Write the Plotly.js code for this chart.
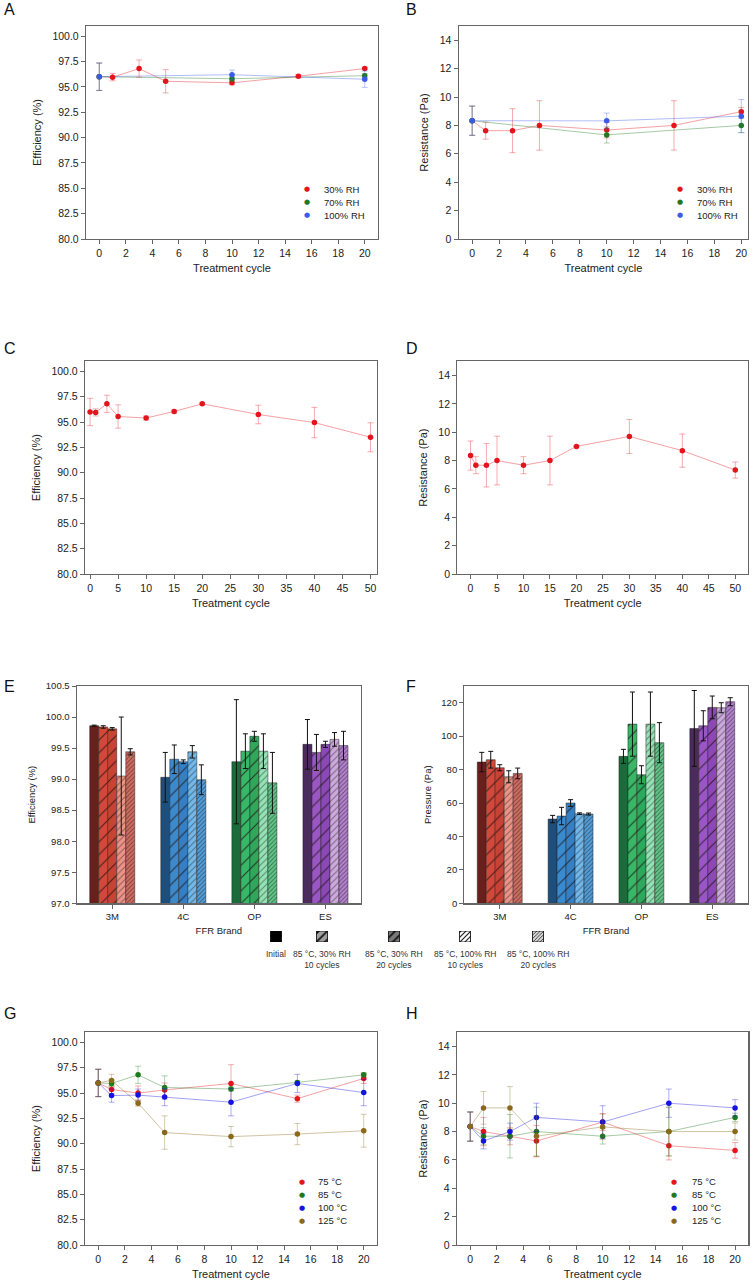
<!DOCTYPE html>
<html><head><meta charset="utf-8">
<script src="https://cdn.plot.ly/plotly-3.0.1.min.js"></script>
<style>body{margin:0;background:#fff}#chart{width:753px;height:1280px}</style>
</head><body><div id="chart"></div>
<script>
// ---------------- DATA ----------------
const cyclesFull = [0, 1, 3, 5, 10, 15, 20];
const cyclesRH = [0, 10, 20];
const cyclesLong = [0, 1, 3, 5, 10, 15, 20, 30, 40, 50];

// Panel A: efficiency (%) vs humidity
const effRH30 = [96.0, 95.95, 96.8, 95.55, 95.4, 96.05, 96.8];
const effRH30Err = [1.35, 0.35, 0.85, 1.15, 0.2, 0.15, 0.1];
const effRH70 = [96.0, 95.8, 96.1];
const effRH70Err = [1.35, 0.3, 0.2];
const effRH100 = [96.0, 96.2, 95.75];
const effRH100Err = [1.35, 0.45, 0.8];

// Panel B: resistance (Pa) vs humidity
const resRH30 = [8.33, 7.63, 7.63, 8.0, 7.67, 8.0, 8.97];
const resRH30Err = [1.03, 0.6, 1.55, 1.74, 0.55, 1.74, 0.3];
const resRH70 = [8.33, 7.33, 8.0];
const resRH70Err = [1.03, 0.57, 0.5];
const resRH100 = [8.33, 8.32, 8.65];
const resRH100Err = [1.03, 0.55, 1.17];

// Panel C / D: long cycling
const effLong = [96.0, 95.95, 96.8, 95.55, 95.4, 96.05, 96.8, 95.75, 94.95, 93.5];
const effLongErr = [1.35, 0.35, 0.85, 1.15, 0.2, 0.15, 0.1, 0.92, 1.5, 1.43];
const resLong = [8.35, 7.67, 7.67, 8.0, 7.67, 8.0, 9.0, 9.7, 8.7, 7.33];
const resLongErr = [1.03, 0.6, 1.53, 1.72, 0.6, 1.72, 0.05, 1.2, 1.17, 0.57];

// Panel E / F: FFR brands
const brands = ['3M', '4C', 'OP', 'ES'];
const condLabels = ['Initial', '85 °C, 30% RH<br>10 cycles', '85 °C, 30% RH<br>20 cycles',
                    '85 °C, 100% RH<br>10 cycles', '85 °C, 100% RH<br>20 cycles'];
const effInitial = [99.86, 99.03, 99.28, 99.56];
const effInitialErr = [0.01, 0.4, 1.0, 0.4];
const eff30c10 = [99.84, 99.32, 99.45, 99.43];
const eff30c10Err = [0.02, 0.23, 0.28, 0.29];
const eff30c20 = [99.81, 99.28, 99.69, 99.56];
const eff30c20Err = [0.02, 0.03, 0.08, 0.05];
const eff100c10 = [99.05, 99.44, 99.45, 99.64];
const eff100c10Err = [0.95, 0.1, 0.28, 0.11];
const eff100c20 = [99.44, 98.99, 98.94, 99.54];
const eff100c20Err = [0.05, 0.24, 0.49, 0.23];

const presInitial = [84.5, 50.4, 87.9, 104.6];
const presInitialErr = [5.8, 2.2, 4.2, 22.7];
const pres30c10 = [85.9, 52.2, 107.2, 106.2];
const pres30c10Err = [5.0, 5.2, 19.2, 9.0];
const pres30c20 = [81.1, 60.0, 76.9, 117.2];
const pres30c20Err = [1.8, 2.0, 5.4, 6.8];
const pres100c10 = [75.7, 53.6, 107.2, 117.0];
const pres100c10Err = [3.6, 0.5, 19.2, 3.0];
const pres100c20 = [77.7, 53.4, 96.1, 120.6];
const pres100c20Err = [3.2, 0.6, 12.0, 2.4];

// Panel G: efficiency vs temperature
const eff75 = [96.0, 95.35, 95.0, 95.3, 95.95, 94.45, 96.45];
const eff75Err = [1.35, 0.4, 0.7, 0.7, 1.85, 0.35, 0.5];
const eff85 = [96.0, 95.95, 96.8, 95.55, 95.4, 96.05, 96.8];
const eff85Err = [1.35, 0.35, 0.85, 1.15, 0.2, 0.15, 0.2];
const eff100 = [96.0, 94.75, 94.8, 94.6, 94.1, 95.95, 95.05];
const eff100Err = [1.35, 0.65, 0.6, 0.85, 1.35, 0.9, 1.3];
const eff125 = [96.0, 96.25, 94.0, 91.1, 90.7, 90.95, 91.28];
const eff125Err = [1.35, 0.6, 0.3, 1.65, 1.0, 1.05, 1.62];

// Panel H: resistance vs temperature
const res75 = [8.35, 8.0, 7.67, 7.33, 8.67, 7.0, 6.67];
const res75Err = [1.03, 1.0, 0.6, 1.1, 0.6, 1.0, 0.55];
const res85 = [8.35, 7.67, 7.67, 8.0, 7.67, 8.0, 9.0];
const res85Err = [1.03, 0.6, 1.53, 1.72, 0.55, 1.72, 0.3];
const res100 = [8.35, 7.33, 8.0, 9.0, 8.67, 10.0, 9.67];
const res100Err = [1.03, 0.55, 0.6, 1.0, 1.15, 1.0, 0.58];
const res125 = [8.35, 9.67, 9.67, 7.67, 8.33, 8.0, 8.0];
const res125Err = [1.03, 1.15, 1.5, 1.45, 0.9, 1.72, 0.6];

// ---------------- STYLE ----------------
const W = 753, H = 1280;
const F = 'Liberation Sans, Arial, sans-serif';
const RED = '#e3141c', GREEN = '#1f7a1f', BLUE_A = '#3a5be8', BLUE_G = '#1414e0', BROWN = '#8a6a1a';
const barColors = [
  ['#6b1f1c', '#1f4e7a', '#1c6b3b', '#4b2a5e'],
  ['#d2483b', '#3a8ad0', '#38b766', '#9a57c3'],
  ['#c84236', '#3580c4', '#2ea85b', '#8c48b6'],
  ['#ec9488', '#72b8ea', '#95e2b5', '#cca9de'],
  ['#d26e63', '#52a0dc', '#62c78b', '#b584d2']
];
const barPatterns = [
  null,
  {shape: '/', size: 9, solidity: 0.12, fgopacity: 0.75},
  {shape: '/', size: 9, solidity: 0.12, fgopacity: 0.75},
  {shape: '/', size: 4.5, solidity: 0.22, fgopacity: 0.45},
  {shape: '/', size: 3, solidity: 0.3, fgopacity: 0.5}
];
const legendSwatchColors = ['#000000', '#a0a0a0', '#7a7a7a', '#ffffff', '#d8d8d8'];
const legendSwatchShapes = ['', '/', '/', '/', '/'];
const legendSwatchSizes = [6, 6, 6, 3.5, 2.5];
const legendCentersPx = [276, 322, 394, 465, 538];

function rgba(hex, a) {
  const n = parseInt(hex.slice(1), 16);
  return `rgba(${(n >> 16) & 255},${(n >> 8) & 255},${n & 255},${a})`;
}
const dx = (a, b) => [a / W, b / W];
const dy = (t, b) => [1 - b / H, 1 - t / H];

const traces = [];
function series(x, y, err, color, n) {
  traces.push({x, y, xaxis: 'x' + n, yaxis: 'y' + n, mode: 'lines', type: 'scatter',
    line: {color: rgba(color, 0.4), width: 1}, showlegend: false, hoverinfo: 'skip'});
}
function seriesMarkers(x, y, err, color, n) {
  traces.push({x, y, xaxis: 'x' + n, yaxis: 'y' + n, mode: 'markers', type: 'scatter',
    marker: {color, size: 5.5}, showlegend: false,
    error_y: {type: 'data', array: err, visible: true, color: rgba(color, 0.35), thickness: 1, width: 3}});
}
function group(list, n) {
  list.forEach(s => series(s[0], s[1], s[2], s[3], n));
  list.forEach(s => seriesMarkers(s[0], s[1], s[2], s[3], n));
}

group([[cyclesFull, effRH30, effRH30Err, RED], [cyclesRH, effRH70, effRH70Err, GREEN], [cyclesRH, effRH100, effRH100Err, BLUE_A]], '');
group([[cyclesFull, resRH30, resRH30Err, RED], [cyclesRH, resRH70, resRH70Err, GREEN], [cyclesRH, resRH100, resRH100Err, BLUE_A]], '2');
group([[cyclesLong, effLong, effLongErr, RED]], '3');
group([[cyclesLong, resLong, resLongErr, RED]], '4');
group([[cyclesFull, eff75, eff75Err, RED], [cyclesFull, eff85, eff85Err, GREEN], [cyclesFull, eff100, eff100Err, BLUE_G], [cyclesFull, eff125, eff125Err, BROWN]], '7');
group([[cyclesFull, res75, res75Err, RED], [cyclesFull, res85, res85Err, GREEN], [cyclesFull, res100, res100Err, BLUE_G], [cyclesFull, res125, res125Err, BROWN]], '8');

const effSets = [[effInitial, effInitialErr], [eff30c10, eff30c10Err], [eff30c20, eff30c20Err], [eff100c10, eff100c10Err], [eff100c20, eff100c20Err]];
const presSets = [[presInitial, presInitialErr], [pres30c10, pres30c10Err], [pres30c20, pres30c20Err], [pres100c10, pres100c10Err], [pres100c20, pres100c20Err]];
function barTrace(vals, errs, i, n) {
  let marker;
  if (barPatterns[i]) {
    // scalar marker colour so the pattern keeps its own per-bar background and dark hatch
    marker = {color: '#888888', line: {color: 'rgba(30,30,30,0.8)', width: 0.6},
      pattern: Object.assign({bgcolor: barColors[i], fgcolor: '#1a1010', fillmode: 'replace'}, barPatterns[i])};
  } else {
    marker = {color: barColors[i], line: {color: 'rgba(30,30,30,0.8)', width: 0.6}};
  }
  return {type: 'bar', x: brands, y: vals, name: condLabels[i].replace('<br>', ', '), xaxis: 'x' + n, yaxis: 'y' + n,
    marker, showlegend: false,
    error_y: {type: 'data', array: errs, visible: true, color: '#111', thickness: 1, width: 2.5}};
}
effSets.forEach((s, i) => traces.push(barTrace(s[0], s[1], i, '5')));
presSets.forEach((s, i) => traces.push(barTrace(s[0], s[1], i, '6')));

// legend swatches for E/F drawn as bars on a tiny hidden axis
traces.push({type: 'bar', x: legendCentersPx, y: [1, 1, 1, 1, 1], width: 11, xaxis: 'x9', yaxis: 'y9',
  showlegend: false, hoverinfo: 'skip',
  marker: {color: '#000000', line: {color: '#000', width: 0.8},
    pattern: {shape: legendSwatchShapes, size: legendSwatchSizes, solidity: 0.3, bgcolor: legendSwatchColors,
      fgcolor: '#111', fgopacity: 1, fillmode: 'replace'}}});

// ---------------- LAYOUT ----------------
function axis(dom, anchor, opts) {
  const fs = opts.small ? 9.5 : 10.5;
  const a = {domain: dom, anchor, showline: true, mirror: true, linecolor: '#666', linewidth: 1.2,
    ticks: 'outside', ticklen: 4, tickwidth: 1, tickcolor: '#666', showgrid: false, zeroline: false,
    tickfont: {family: F, size: fs, color: '#222'},
    title: {text: opts.title, font: {family: F, size: opts.small ? 9.5 : 11, color: '#222'}, standoff: opts.standoff}};
  if (opts.range) a.range = opts.range;
  if (opts.dtick !== undefined) { a.tickmode = 'linear'; a.tick0 = opts.tick0 || 0; a.dtick = opts.dtick; }
  if (opts.fmt) a.tickformat = opts.fmt;
  if (opts.type) a.type = opts.type;
  return a;
}
const layout = {
  width: W, height: H, margin: {l: 0, r: 0, t: 0, b: 0}, paper_bgcolor: '#fff', plot_bgcolor: '#fff',
  showlegend: false, barmode: 'group', bargap: 0.366, bargroupgap: 0,
  font: {family: F},
  xaxis: axis(dx(86, 378), 'y', {title: 'Treatment cycle', range: [-1, 21], dtick: 2, standoff: 6}),
  yaxis: axis(dy(26, 239), 'x', {title: 'Efficiency (%)', range: [80, 101], dtick: 2.5, tick0: 80, fmt: '.1f', standoff: 8}),
  xaxis2: axis(dx(458.7, 748), 'y2', {title: 'Treatment cycle', range: [-1, 20.5], dtick: 2, standoff: 6}),
  yaxis2: axis(dy(26, 239), 'x2', {title: 'Resistance (Pa)', range: [0, 15], dtick: 2, standoff: 8}),
  xaxis3: axis(dx(85, 376.7), 'y3', {title: 'Treatment cycle', range: [-0.9, 51.1], dtick: 5, standoff: 6}),
  yaxis3: axis(dy(361.3, 574), 'x3', {title: 'Efficiency (%)', range: [80, 101], dtick: 2.5, tick0: 80, fmt: '.1f', standoff: 8}),
  xaxis4: axis(dx(457.3, 748), 'y4', {title: 'Treatment cycle', range: [-2.5, 52.4], dtick: 5, standoff: 6}),
  yaxis4: axis(dy(361.3, 574), 'x4', {title: 'Resistance (Pa)', range: [0, 15], dtick: 2, standoff: 8}),
  xaxis5: axis(dx(76.7, 361), 'y5', {title: 'FFR Brand', small: true, type: 'category', standoff: 6}),
  yaxis5: axis(dy(686, 903.3), 'x5', {title: 'Efficiency (%)', small: true, range: [97, 100.5], dtick: 0.5, tick0: 97, fmt: '.1f', standoff: 8}),
  xaxis6: axis(dx(464.3, 747.7), 'y6', {title: 'FFR Brand', small: true, type: 'category', standoff: 6}),
  yaxis6: axis(dy(686, 903.3), 'x6', {title: 'Pressure (Pa)', small: true, range: [0, 130], dtick: 20, standoff: 8}),
  xaxis7: axis(dx(85, 377), 'y7', {title: 'Treatment cycle', range: [-1, 21], dtick: 2, standoff: 6}),
  yaxis7: axis(dy(1032.3, 1245), 'x7', {title: 'Efficiency (%)', range: [80, 101], dtick: 2.5, tick0: 80, fmt: '.1f', standoff: 8}),
  xaxis8: axis(dx(457, 748.3), 'y8', {title: 'Treatment cycle', range: [-1, 21], dtick: 2, standoff: 6}),
  yaxis8: axis(dy(1032.3, 1245), 'x8', {title: 'Resistance (Pa)', range: [0, 15], dtick: 2, standoff: 8}),
  xaxis9: {domain: dx(268, 548), anchor: 'y9', range: [268, 548], visible: false, fixedrange: true},
  yaxis9: {domain: dy(931, 942), anchor: 'x9', range: [0, 1], visible: false, fixedrange: true},
  annotations: []
};

// panel letters
const letters = [['A', 2, 9.5], ['B', 404, 9.5], ['C', 2, 348.5], ['D', 404, 348.5],
                 ['E', 2, 686], ['F', 404, 686], ['G', 2, 1013], ['H', 404, 1013]];
letters.forEach(l => layout.annotations.push({text: l[0], xref: 'paper', yref: 'paper', x: l[1] / W, y: 1 - l[2] / H,
  xanchor: 'left', yanchor: 'middle', showarrow: false, font: {family: F, size: 16, color: '#111'}}));

// line-chart legends
function legendAnn(labels, colors, mx, tx, ys) {
  labels.forEach((lab, i) => {
    layout.annotations.push({text: '●', xref: 'paper', yref: 'paper', x: mx / W, y: 1 - ys[i] / H,
      xanchor: 'center', yanchor: 'middle', showarrow: false, font: {family: 'DejaVu Sans', size: 7, color: colors[i]}});
    layout.annotations.push({text: lab, xref: 'paper', yref: 'paper', x: tx / W, y: 1 - ys[i] / H,
      xanchor: 'left', yanchor: 'middle', showarrow: false, font: {family: F, size: 9.5, color: '#222'}});
  });
}
const rhLabels = ['30% RH', '70% RH', '100% RH'];
const tLabels = ['75 °C', '85 °C', '100 °C', '125 °C'];
legendAnn(rhLabels, [RED, GREEN, BLUE_A], 307, 322, [189, 202, 215]);
legendAnn(rhLabels, [RED, GREEN, BLUE_A], 680, 695, [189, 202, 215]);
legendAnn(tLabels, [RED, GREEN, BLUE_G, BROWN], 302, 316, [1181.5, 1194.5, 1207.5, 1220.5]);
legendAnn(tLabels, [RED, GREEN, BLUE_G, BROWN], 674, 690, [1181.5, 1194.5, 1207.5, 1220.5]);

// E/F legend labels
condLabels.forEach((lab, i) => layout.annotations.push({text: lab, xref: 'x9', yref: 'paper', x: legendCentersPx[i], y: 1 - 947 / H,
  xanchor: 'center', yanchor: 'top', showarrow: false, font: {family: F, size: 8.5, color: '#333'}}));

Plotly.newPlot('chart', traces, layout, {staticPlot: true, displayModeBar: false});
</script></body></html>
